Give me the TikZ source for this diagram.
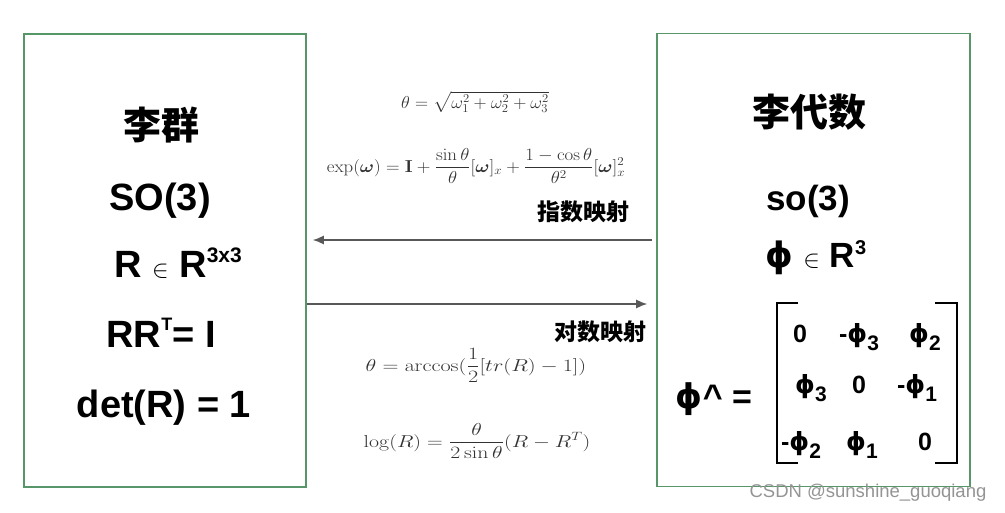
\documentclass[tikz,border=0pt]{standalone}
\usepackage{amsmath}
\usepackage{bm}
\usepackage[no-math]{fontspec}
\setmainfont{Liberation Sans}
\newfontfamily\cjk{Noto Sans CJK SC}
\newfontfamily\phifont{DejaVu Sans}
\usetikzlibrary{arrows.meta}

\definecolor{boxgreen}{RGB}{86,150,104}
\definecolor{arrowgray}{RGB}{88,88,88}
\definecolor{formulagray}{RGB}{50,50,50}

\newcommand{\lowidx}[1]{\raisebox{-8pt}{\fontsize{21}{21}\selectfont #1}}
\newcommand{\vphi}{{\phifont ϕ}}

\tikzset{
  panel/.style={draw=boxgreen, line width=1.6pt, minimum width=282pt, minimum height=453pt, inner sep=0pt},
  bigtext/.style={font=\bfseries\fontsize{38}{38}\selectfont, inner sep=0pt, anchor=base},
  entry/.style={font=\bfseries\fontsize{25}{25}\selectfont, inner sep=0pt, anchor=base},
  formula/.style={font=\fontsize{17.5}{20}\selectfont, text=formulagray, inner sep=0pt, anchor=base},
  maplabel/.style={font=\cjk\bfseries\fontsize{23}{23}\selectfont, inner sep=0pt},
  map/.style={draw=arrowgray, line width=1.4pt, -{Latex[length=11pt,width=9pt]}},
  bracket/.style={line width=2.6pt},
  watermark/.style={font=\fontsize{18.5}{18.5}\selectfont, text=black!42, inner sep=0pt}
}

\begin{document}
\begin{tikzpicture}[x=1pt, y=-1pt]
\useasboundingbox (0,0) rectangle (1005,512);

% Boxes
\node[panel] (group) at (165,260.5) {};
\node[panel, minimum width=313pt] (algebra) at (813.5,260) {};

% Lie group
\node[bigtext] (lgname) at (161,139) {\cjk 李群};
\node[bigtext] (so3) at (160,210) {SO(3)};
\node[bigtext] (rin) at (178,277) {R {\fontsize{28}{28}\selectfont$\in$} R\raisebox{15pt}{\fontsize{21}{21}\selectfont 3x3}};
\node[bigtext] (orth) at (161,347) {RR\raisebox{17pt}{\fontsize{18}{18}\selectfont T}= I};
\node[bigtext] (det) at (164,417) {det(R) = 1};

% Lie algebra
\node[bigtext] (laname) at (809,126) {\cjk 李代数};
\node[bigtext, font=\bfseries\fontsize{35}{35}\selectfont] (lso3) at (808,210) {so(3)};
\node[bigtext, font=\bfseries\fontsize{35}{35}\selectfont] (phin) at (816,267) {\vphi{} {\fontsize{26}{26}\selectfont$\in$} R\raisebox{13pt}{\fontsize{20}{20}\selectfont 3}};

% Hat matrix
\node[bigtext, font=\bfseries\fontsize{34}{34}\selectfont] (hat) at (714,408) {\vphi\textasciicircum{} =};
\draw[bracket] (798,303) -| (777,463) -- (798,463);
\draw[bracket] (935,303) -| (957,463) -- (935,463);
\foreach \val/\px/\py [count=\k] in {0/800/342, {-\vphi\lowidx{3}}/859/342, {\vphi\lowidx{2}}/925/342,
    {\vphi\lowidx{3}}/811/393, 0/859/393, {-\vphi\lowidx{1}}/917/393,
    {-\vphi\lowidx{2}}/801/450, {\vphi\lowidx{1}}/862/450, 0/925/450}
  \node[entry] (m\k) at (\px,\py) {\val};

% Maps
\draw[map, shorten <=4pt, shorten >=6pt] (algebra.west |- 0,240) -- (group.east |- 0,240);
\draw[map, shorten >=9pt] (group.east |- 0,304) -- (algebra.west |- 0,304);
\node[maplabel] (explabel) at (583,212) {指数映射};
\node[maplabel] (loglabel) at (600,332) {对数映射};

% Formulas
\node[formula] (angle) at (475,108) {\scalebox{1.05}[1]{$\theta = \sqrt{\omega_1^2+\omega_2^2+\omega_3^2}$}};
\node[formula] (expmap) at (476,172) {\scalebox{1.09}[1]{$\exp(\bm{\omega}) = \mathbf{I} + \dfrac{\sin\theta}{\theta}[\bm{\omega}]_x + \dfrac{1-\cos\theta}{\theta^2}[\bm{\omega}]_x^2$}};
\node[formula] (arccos) at (476,371) {\scalebox{1.28}[1]{$\theta = \arccos(\dfrac{1}{2}[tr(R)-1])$}};
\node[formula] (logmap) at (477,447) {\scalebox{1.26}[1]{$\log(R) = \dfrac{\theta}{2\sin\theta}(R-R^T)$}};

% Credit
\node[watermark] (credit) at (868,493) {CSDN @sunshine\_guoqiang};

\end{tikzpicture}
\end{document}
